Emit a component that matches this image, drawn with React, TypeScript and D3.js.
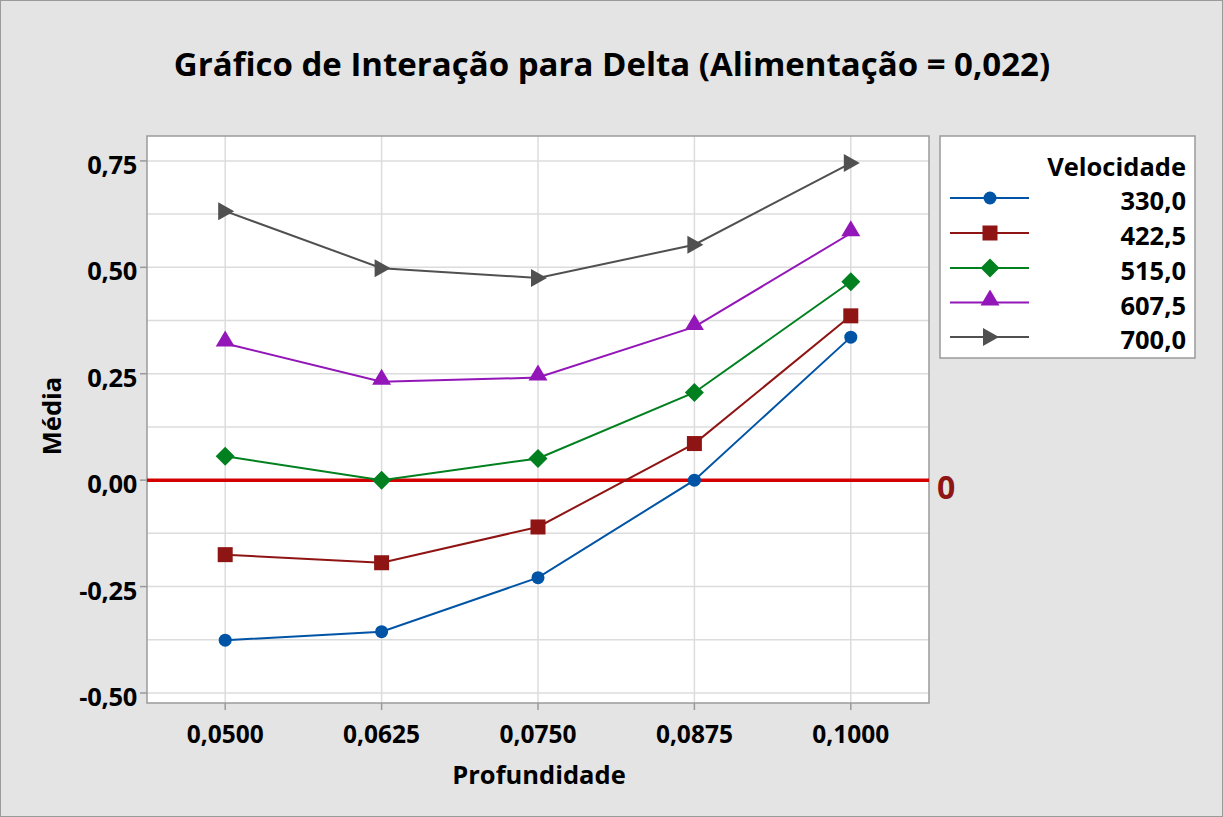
import * as d3 from "d3";

const profundidade = [0.05, 0.0625, 0.075, 0.0875, 0.1];
const xTickLabels = ["0,0500", "0,0625", "0,0750", "0,0875", "0,1000"];
const yTicks = [0.75, 0.5, 0.25, 0, -0.25, -0.5];
const yTickLabels = ["0,75", "0,50", "0,25", "0,00", "-0,25", "-0,50"];

const velocidades = ["330,0", "422,5", "515,0", "607,5", "700,0"];
const v330 = [-0.376, -0.356, -0.229, 0.0, 0.336];
const v4225 = [-0.175, -0.194, -0.11, 0.086, 0.386];
const v515 = [0.056, 0.0, 0.051, 0.206, 0.466];
const v6075 = [0.321, 0.231, 0.241, 0.36, 0.58];
const v700 = [0.632, 0.498, 0.475, 0.553, 0.745];

const COLORS = ["#0054a6", "#8f1414", "#00801f", "#9316b8", "#505050"];
const SHAPES = ["circle", "square", "diamond", "triUp", "triRight"];

const FONT = "'Open Sans', 'DejaVu Sans', sans-serif";

const W = 1223;
const H = 817;
const plot = { left: 147, right: 929, top: 136, bottom: 703 };

function Marker({ shape, x, y, color }: { shape: string; x: number; y: number; color: string }) {
  if (shape === "circle") return <circle cx={x} cy={y} r={6.5} fill={color} />;
  if (shape === "square") return <rect x={x - 7.5} y={y - 7.5} width={15} height={15} fill={color} />;
  if (shape === "diamond")
    return <path d={`M${x},${y - 9.5}L${x + 9.5},${y}L${x},${y + 9.5}L${x - 9.5},${y}Z`} fill={color} />;
  if (shape === "triUp")
    return <path d={`M${x},${y - 13}L${x + 9.5},${y + 3}L${x - 9.5},${y + 3}Z`} fill={color} />;
  return <path d={`M${x - 7},${y - 9}L${x + 9},${y}L${x - 7},${y + 9}Z`} fill={color} />;
}

export default function App() {
  const series = [v330, v4225, v515, v6075, v700];

  const x = d3.scaleLinear().domain([0.04375, 0.10625]).range([plot.left, plot.right]);
  const y = d3.scaleLinear().domain([-0.5235, 0.8085]).range([plot.bottom, plot.top]);

  const gridY = d3.range(-0.5, 0.8, 0.125);
  const line = d3
    .line<number>()
    .x((_, i) => x(profundidade[i]))
    .y((d) => y(d));

  const legendRows = [198, 233, 268, 302.5, 337];

  return (
    <div style={{ position: "fixed", left: 0, top: 0 }}>
      <svg width={W} height={H} style={{ display: "block", fontFamily: FONT }}>
        <rect x={0.5} y={0.5} width={W - 1} height={H - 1} fill="#e4e4e4" stroke="#9a9a9a" />
        <text x={612} y={76} textAnchor="middle" fontSize={33} fontWeight={700} fill="#000">
          Gráfico de Interação para Delta (Alimentação = 0,022)
        </text>

        {/* plot area */}
        <rect
          x={plot.left}
          y={plot.top}
          width={plot.right - plot.left}
          height={plot.bottom - plot.top}
          fill="#fff"
        />
        {gridY.map((g) => (
          <line key={g} x1={plot.left} x2={plot.right} y1={y(g)} y2={y(g)} stroke="#dcdcdc" strokeWidth={1.5} />
        ))}
        {profundidade.map((p) => (
          <line key={p} x1={x(p)} x2={x(p)} y1={plot.top} y2={plot.bottom} stroke="#dcdcdc" strokeWidth={1.5} />
        ))}
        <rect
          x={plot.left}
          y={plot.top}
          width={plot.right - plot.left}
          height={plot.bottom - plot.top}
          fill="none"
          stroke="#9a9a9a"
          strokeWidth={1.5}
        />

        {/* reference line */}
        <line x1={plot.left} x2={plot.right} y1={y(0)} y2={y(0)} stroke="#d40000" strokeWidth={3.5} />
        <text x={937} y={499} fontSize={32} fontWeight={700} fill="#8f1414">
          0
        </text>

        {/* y axis */}
        {yTicks.map((t, i) => (
          <g key={t}>
            <line x1={plot.left - 7} x2={plot.left} y1={y(t)} y2={y(t)} stroke="#9a9a9a" strokeWidth={1.5} />
            <text x={137} y={y(t) + 13} textAnchor="end" fontSize={25.5} fontWeight={700} letterSpacing={-0.3}>
              {yTickLabels[i]}
            </text>
          </g>
        ))}
        <text transform={`translate(61,416) rotate(-90)`} textAnchor="middle" fontSize={25.5} fontWeight={700}>
          Média
        </text>

        {/* x axis */}
        {profundidade.map((p, i) => (
          <g key={p}>
            <line x1={x(p)} x2={x(p)} y1={plot.bottom} y2={plot.bottom + 7} stroke="#9a9a9a" strokeWidth={1.5} />
            <text x={x(p)} y={743} textAnchor="middle" fontSize={24.5} fontWeight={700}>
              {xTickLabels[i]}
            </text>
          </g>
        ))}
        <text x={539} y={784} textAnchor="middle" fontSize={25.5} fontWeight={700}>
          Profundidade
        </text>

        {/* series */}
        {series.map((s, k) => (
          <g key={k}>
            <path d={line(s) ?? ""} fill="none" stroke={COLORS[k]} strokeWidth={2} />
            {s.map((v, i) => (
              <Marker key={i} shape={SHAPES[k]} x={x(profundidade[i])} y={y(v)} color={COLORS[k]} />
            ))}
          </g>
        ))}

        {/* legend */}
        <rect x={940} y={136} width={255} height={222} fill="#fff" stroke="#9a9a9a" strokeWidth={1.5} />
        <text x={1186} y={176} textAnchor="end" fontSize={25.5} fontWeight={700}>
          Velocidade
        </text>
        {velocidades.map((v, k) => (
          <g key={v}>
            <line x1={950} x2={1029} y1={legendRows[k]} y2={legendRows[k]} stroke={COLORS[k]} strokeWidth={2} />
            <Marker shape={SHAPES[k]} x={990} y={legendRows[k]} color={COLORS[k]} />
            <text x={1186} y={legendRows[k] + 12} textAnchor="end" fontSize={25.5} fontWeight={700}>
              {v}
            </text>
          </g>
        ))}
      </svg>
    </div>
  );
}
